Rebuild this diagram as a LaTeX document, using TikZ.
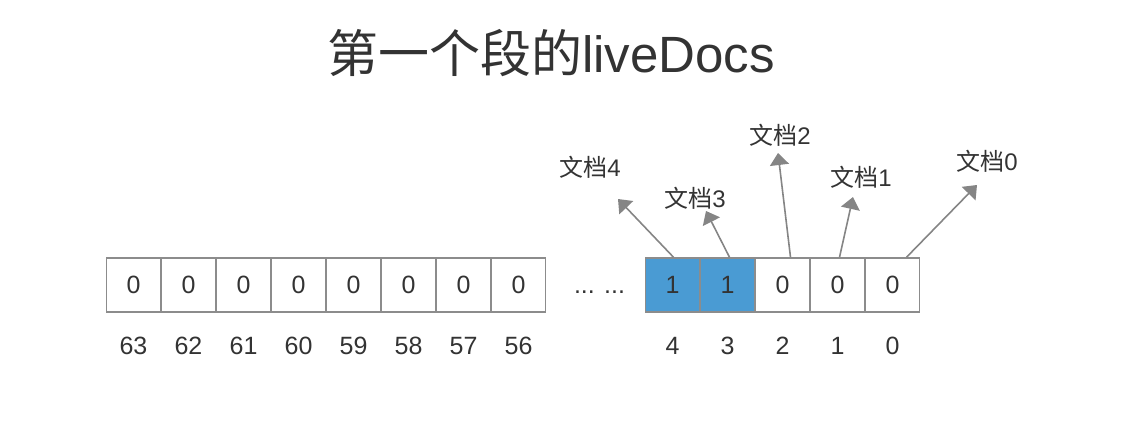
\documentclass[tikz,border=0pt]{standalone}
\usepackage{fontspec}
\setmainfont{Liberation Sans}
\newfontfamily\cjk{Noto Sans CJK SC}
\usetikzlibrary{positioning, arrows.meta}
\definecolor{bitblue}{HTML}{4A9BD3}
\definecolor{rimgray}{HTML}{8C8C8C}
\definecolor{textgray}{HTML}{333333}

\begin{document}
\begin{tikzpicture}[
    x=1bp, y=1bp,
    node distance=55bp,
    on grid,
    every node/.style={text=textgray},
    cell/.style={draw=rimgray, line width=1.5bp, minimum size=54bp, inner sep=0pt, font=\fontsize{25bp}{28bp}\selectfont},
    setbit/.style={cell, fill=bitblue},
    index/.style={font=\fontsize{25bp}{28bp}\selectfont},
    doc/.style={font=\fontsize{24bp}{28bp}\selectfont, inner sep=0pt},
    pointer/.style={->, draw=rimgray!95!black, line width=1.6bp},
    >={Triangle[length=12bp, width=19bp]}
]
   \useasboundingbox (0,0) rectangle (1144,422);

   % Title
   \node[font=\fontsize{51bp}{56bp}\selectfont] (title) at (551,369) {{\cjk 第一个段的}liveDocs};

   % High bits
   \node[cell] (c63) at (133.5,137) {0};
   \node[cell] (c62) [right=of c63] {0};
   \node[cell] (c61) [right=of c62] {0};
   \node[cell] (c60) [right=of c61] {0};
   \node[cell] (c59) [right=of c60] {0};
   \node[cell] (c58) [right=of c59] {0};
   \node[cell] (c57) [right=of c58] {0};
   \node[cell] (c56) [right=of c57] {0};

   \node[index] (dots) [right=81bp of c56] {\vphantom{0}... ...};

   % Low bits
   \node[setbit] (c4) [right=73bp of dots] {1};
   \node[setbit] (c3) [right=of c4] {1};
   \node[cell] (c2) [right=of c3] {0};
   \node[cell] (c1) [right=of c2] {0};
   \node[cell] (c0) [right=of c1] {0};

   % Bit numbers
   \node[index] (n63) [below=61bp of c63] {63};
   \node[index] (n62) [below=61bp of c62] {62};
   \node[index] (n61) [below=61bp of c61] {61};
   \node[index] (n60) [below=61bp of c60] {60};
   \node[index] (n59) [below=61bp of c59] {59};
   \node[index] (n58) [below=61bp of c58] {58};
   \node[index] (n57) [below=61bp of c57] {57};
   \node[index] (n56) [below=61bp of c56] {56};
   \node[index] (n4) [below=61bp of c4] {4};
   \node[index] (n3) [below=61bp of c3] {3};
   \node[index] (n2) [below=61bp of c2] {2};
   \node[index] (n1) [below=61bp of c1] {1};
   \node[index] (n0) [below=61bp of c0] {0};

   % Documents
   \node[doc] (d4) at (590,255) {{\cjk 文档}4};
   \node[doc] (d3) at (695,224) {{\cjk 文档}3};
   \node[doc] (d2) at (780,287) {{\cjk 文档}2};
   \node[doc] (d1) at (861,245) {{\cjk 文档}1};
   \node[doc] (d0) at (987,261) {{\cjk 文档}0};

   \coordinate (t4) at (618,223);
   \coordinate (t3) at (706,211);
   \coordinate (t2) at (778,269);
   \coordinate (t1) at (853,225);
   \coordinate (t0) at (977,237);

   % Pointers
   \draw[pointer] ([xshift=1bp]c4.north) -- (t4);
   \draw[pointer] ([xshift=2bp]c3.north) -- (t3);
   \draw[pointer] ([xshift=8bp]c2.north) -- (t2);
   \draw[pointer] ([xshift=2bp]c1.north) -- (t1);
   \draw[pointer] ([xshift=14bp]c0.north) -- (t0);
\end{tikzpicture}
\end{document}
